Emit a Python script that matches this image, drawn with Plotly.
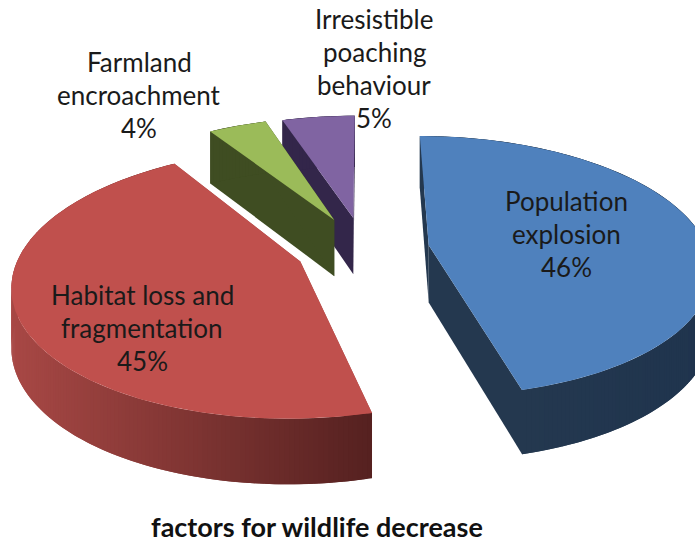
import math
import plotly.graph_objects as go

# Share of each factor, in percent, clockwise from twelve o'clock
categories = ["Population\nexplosion", "Habitat loss and\nfragmentation",
              "Farmland\nencroachment", "Irresistible\npoaching\nbehaviour"]
shares = [46, 45, 4, 5]
explode = [0.235, 0.245, 0.26, 0.2546]
chart_title = "factors for wildlife decrease"

top_colors = ["#4F81BD", "#C0504D", "#9BBB59", "#8064A2"]
wall_left = ["#24384F", "#A84845", "#3F4D22", "#33264A"]
wall_right = ["#1F344E", "#552120", "#3F4D22", "#33264A"]

label_anchor = [(566, 201), (142, 295), (139, 62), (374, 19)]
LINE_STEP = 33

# Perspective camera of the tilted pie, in page pixels
CENTER_X = 364.0
HORIZON = 550.0
DEPTH_0 = 0.0012517
DEPTH_SLOPE = 0.0002
WIDTH_SCALE = 0.349


def project(p, q):
    t = 1.0 / (DEPTH_0 + DEPTH_SLOPE * q)
    return CENTER_X + WIDTH_SCALE * p * t, t - HORIZON, 20 + 0.047 * t


def rgb(c):
    return [int(c[i:i + 2], 16) for i in (1, 3, 5)]


def mix(a, b, t):
    t = max(0.0, min(1.0, t))
    ca, cb = rgb(a), rgb(b)
    return "rgb(%d,%d,%d)" % tuple(round(x + (y - x) * t) for x, y in zip(ca, cb))


fig = go.Figure()


def polygon(xs, ys, color):
    fig.add_trace(go.Scatter(
        x=xs + xs[:1], y=ys + ys[:1], mode="lines", fill="toself", fillcolor=color,
        line=dict(width=0), hoverinfo="skip", showlegend=False))


# Angular span of every slice
spans = []
start = 0.0
for share in shares:
    end = start + 360.0 * share / sum(shares)
    spans.append((start, end))
    start = end

# Back slices first so the nearer walls overlap them
for i in [3, 2, 1, 0]:
    a0, a1 = spans[i]
    mid = math.radians((a0 + a1) / 2)
    ox, oy = explode[i] * math.sin(mid), explode[i] * math.cos(mid)
    n = max(6, int((a1 - a0) * 1.2))
    angles = [math.radians(a0 + (a1 - a0) * k / n) for k in range(n + 1)]
    rim = [project(ox + math.sin(a), oy + math.cos(a)) for a in angles]
    apex = project(ox, oy)
    x_low = min(r[0] for r in rim)
    x_high = max(r[0] for r in rim)
    if i == 0:
        x_low = rim[-1][0]

    # Straight cut walls
    for r in (rim[0], rim[-1]):
        polygon([apex[0], r[0], r[0], apex[0]],
                [apex[1], r[1], r[1] + r[2], apex[1] + apex[2]], wall_left[i])

    # Curved outer wall: strips overlap their neighbour so no seams show
    for k in range(n):
        r0, r1 = rim[k], rim[min(k + 2, n)]
        shade = mix(wall_left[i], wall_right[i],
                    ((r0[0] + rim[k + 1][0]) / 2 - x_low) / max(1.0, x_high - x_low))
        polygon([r0[0], r1[0], r1[0], r0[0]],
                [r0[1], r1[1], r1[1] + r1[2], r0[1] + r0[2]], shade)

    # Top face
    polygon([apex[0]] + [r[0] for r in rim], [apex[1]] + [r[1] for r in rim], top_colors[i])

# Data labels, one annotation per text line
annotations = []
for cat, share, (lx, ly) in zip(categories, shares, label_anchor):
    for j, line in enumerate(cat.split("\n") + [f"{share}%"]):
        annotations.append(dict(x=lx, y=ly + j * LINE_STEP, text=line, showarrow=False,
                                xanchor="center", yanchor="middle",
                                font=dict(family="Lato", size=26, color="#1a1a1a")))
annotations.append(dict(x=317, y=526, text=f"<b>{chart_title}</b>", showarrow=False,
                        xanchor="center", yanchor="middle",
                        font=dict(family="Lato", size=27, color="#111111")))

fig.update_layout(
    width=695, height=542, margin=dict(l=0, r=0, t=0, b=0),
    paper_bgcolor="white", plot_bgcolor="white", showlegend=False,
    xaxis=dict(range=[0, 695], visible=False, fixedrange=True),
    yaxis=dict(range=[542, 0], visible=False, fixedrange=True),
    annotations=annotations,
)
fig.write_html("out.html", config=dict(displayModeBar=False))
